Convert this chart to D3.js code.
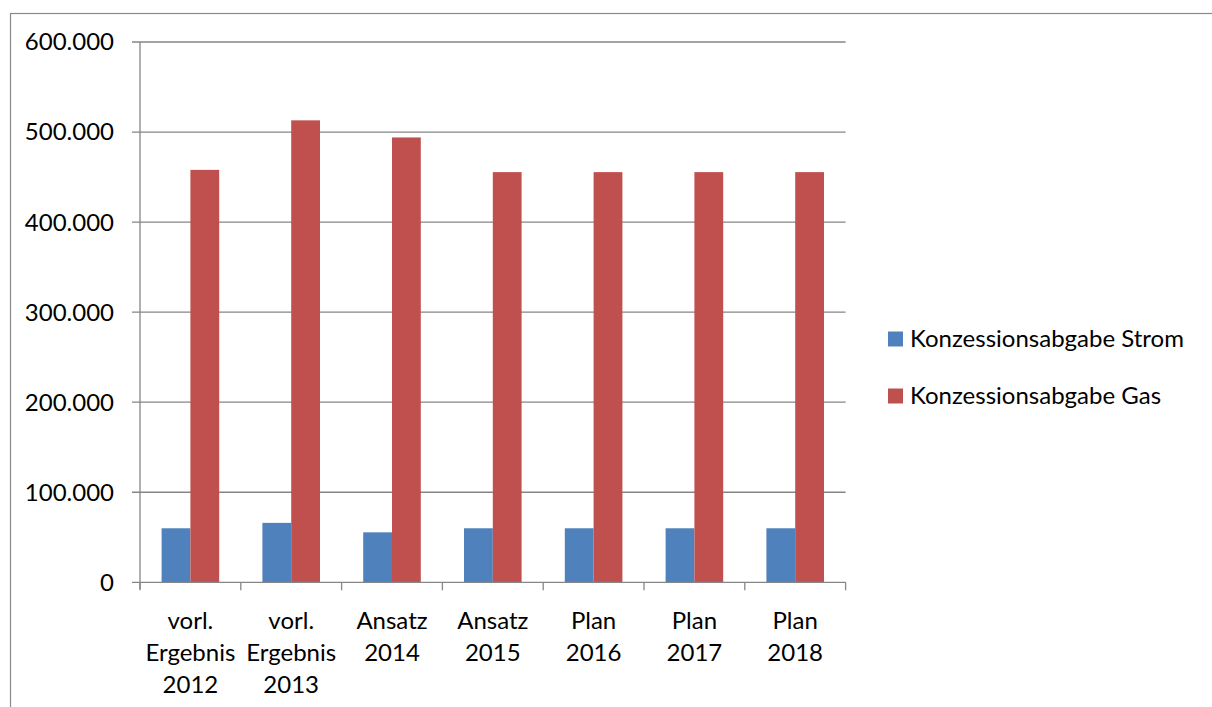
<!DOCTYPE html>
<html><head><meta charset="utf-8">
<script src="https://cdn.jsdelivr.net/npm/d3@7/dist/d3.min.js"></script>
<style>body{margin:0;background:#fff;}svg{display:block;}</style>
</head><body>
<script>
const categories = [["vorl.","Ergebnis","2012"],["vorl.","Ergebnis","2013"],["Ansatz","2014"],["Ansatz","2015"],["Plan","2016"],["Plan","2017"],["Plan","2018"]];
const seriesNames = ["Konzessionsabgabe Strom","Konzessionsabgabe Gas"];
const strom = [60000, 66000, 55500, 60000, 60000, 60000, 60000];
const gas = [458000, 513000, 494000, 455500, 455500, 455500, 455500];
const yTicks = [0,100000,200000,300000,400000,500000,600000];
const colors = ["#4F81BD","#C0504D"];

const W=1212,H=707;
const FONT = "Lato, 'Open Sans', sans-serif";
const FS = 24;
const svg = d3.select("body").append("svg").attr("width",W).attr("height",H);
svg.append("rect").attr("x",10.5).attr("y",13.5).attr("width",W+20).attr("height",H+20)
  .attr("fill","none").attr("stroke","#898989").attr("stroke-width",1.2);

const x0=140,x1=845.6,yTop=42,yBot=582.3;
const keys = categories.map((c,i)=>i);
const x = d3.scaleBand().domain(keys).range([x0,x1]).paddingInner(0).paddingOuter(0);
const y = d3.scaleLinear().domain([0,600000]).range([yBot,yTop]);
const grey="#868686";

// gridlines + y ticks
const fmt = v => v===0 ? "0" : d3.format(",")(v).replace(/,/g,".");
const gy = svg.append("g");
gy.selectAll("line.grid").data(yTicks.filter(v=>v>0)).join("line")
  .attr("x1",132).attr("x2",x1).attr("y1",d=>y(d)).attr("y2",d=>y(d))
  .attr("stroke",grey).attr("stroke-width",1.3);
gy.selectAll("text").data(yTicks).join("text")
  .attr("x",114).attr("y",d=>y(d)).attr("dy","0.35em").attr("text-anchor","end")
  .style("font-family",FONT).style("font-size",FS+"px").attr("fill","#000").text(fmt);

// bars
const bw = x.bandwidth()/3.5;
const gapOff = (x.bandwidth()-2*bw)/2;
[strom,gas].forEach((ser,si)=>{
  svg.append("g").selectAll("rect").data(ser).join("rect")
    .attr("x",(d,i)=>x(i)+gapOff+si*bw).attr("width",bw)
    .attr("y",d=>y(d)).attr("height",d=>yBot-y(d))
    .attr("fill",colors[si]);
});

// axes lines
svg.append("line").attr("x1",x0).attr("x2",x0).attr("y1",yTop).attr("y2",yBot+7).attr("stroke",grey).attr("stroke-width",1.3);
svg.append("line").attr("x1",132).attr("x2",x1).attr("y1",yBot).attr("y2",yBot).attr("stroke",grey).attr("stroke-width",1.3);
const bounds = keys.map(k=>x(k)).concat([x1]);
svg.append("g").selectAll("line").data(bounds).join("line")
  .attr("x1",d=>d).attr("x2",d=>d).attr("y1",yBot).attr("y2",yBot+8).attr("stroke",grey).attr("stroke-width",1.3);

// category labels
const cg = svg.append("g");
categories.forEach((lines,i)=>{
  const t = cg.append("text").attr("text-anchor","middle")
    .style("font-family",FONT).style("font-size",FS+"px").attr("fill","#000");
  lines.forEach((l,j)=>{
    t.append("tspan").attr("x",x(i)+x.bandwidth()/2).attr("y",629+j*32).text(l);
  });
});

// legend
const lg = svg.append("g");
seriesNames.forEach((n,i)=>{
  const cy = 339 + i*57;
  lg.append("rect").attr("x",888).attr("y",cy-7.5).attr("width",15).attr("height",15).attr("fill",colors[i]);
  lg.append("text").attr("x",910).attr("y",cy).attr("dy","0.35em")
    .style("font-family",FONT).style("font-size",FS+"px").attr("fill","#000").text(n);
});
</script>
</body></html>
